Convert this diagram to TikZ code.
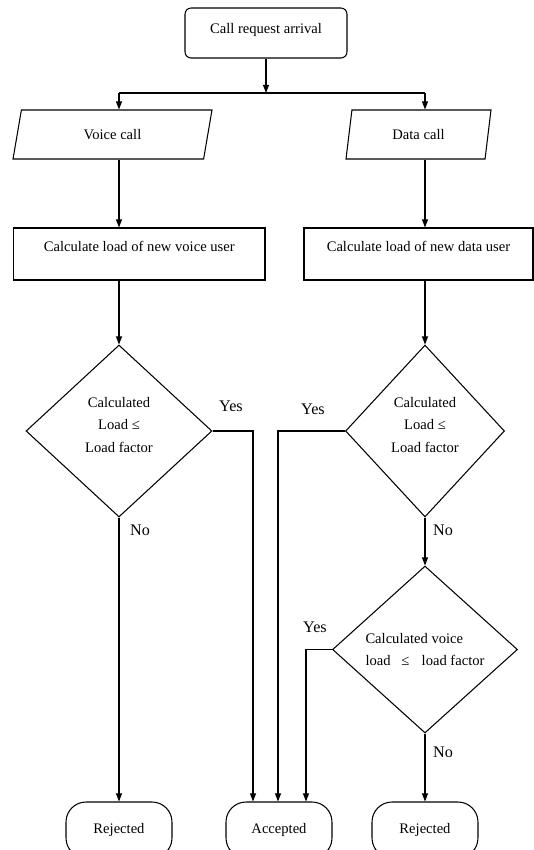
\documentclass[tikz,border=0pt]{standalone}
\usepackage{fontspec}
\setmainfont{Liberation Serif}
\usepackage{tikz}
\usetikzlibrary{shapes.geometric}
\usetikzlibrary{arrows.meta}
\tikzset{
  every node/.style={font=\fontsize{8.3}{13}\selectfont},
  flow/.style={draw=black, line width=0.6pt},
  arr/.style={flow, -{Triangle[length=4.6pt,width=3.4pt]}},
  startbox/.style={flow, rectangle, rounded corners=3.5pt, minimum width=3.24cm, minimum height=1cm, text depth=5pt},
  inputbox/.style={flow, trapezium, trapezium stretches body, minimum height=0.98cm, inner sep=0pt},
  procbox/.style={flow, rectangle, minimum height=1.04cm, text depth=8.5pt},
  decision/.style={flow, diamond, inner sep=0pt, align=center},
  stopbox/.style={flow, rectangle, rounded corners=0.4cm, minimum width=2.12cm, minimum height=1.12cm},
  branchlabel/.style={font=\fontsize{9.2}{11}\selectfont, inner sep=0pt}
}
\newcommand{\branch}[3]{\node[branchlabel] (#1) at (#2) {#3};}

\begin{document}
\begin{tikzpicture}[x=0.02cm, y=-0.02cm]
        \useasboundingbox (0,0) rectangle (534,850);
        \clip (0,0) rectangle (534,850);
        % start
        \node[startbox] (start) at (266,33) {Call request arrival};
        \coordinate (split) at (266,93);
        \coordinate (splitL) at (119,93);
        \coordinate (splitR) at (425,93);
        % call type
        \node[inputbox, trapezium left angle=51, trapezium right angle=129, minimum width=3.98cm] (voice) at (112.5,134.5) {Voice call};
        \node[inputbox, trapezium left angle=60, trapezium right angle=120, minimum width=2.9cm] (data) at (418.5,134.5) {Data call};
        % load calculation
        \node[procbox, minimum width=5.03cm] (vload) at (139.3,254) {Calculate load of new voice user};
        \node[procbox, minimum width=4.58cm] (dload) at (418.5,254) {Calculate load of new data user};
        % admission tests
        \node[decision, minimum width=3.72cm, minimum height=3.44cm] (vtest) at (119,431) {Calculated\\Load ≤\\Load factor\rule[-7pt]{0pt}{7pt}};
        \node[decision, minimum width=3.18cm, minimum height=3.44cm] (dtest) at (425,431) {Calculated\\Load ≤\\Load factor\rule[-7pt]{0pt}{7pt}};
        \node[decision, align=left, minimum width=3.7cm, minimum height=3.34cm, font=\fontsize{8.3}{12.5}\selectfont] (vtest2) at (425,649.5) {Calculated voice\\load\hspace{4pt} ≤ \hspace{5pt}load factor};
        % outcomes
        \node[stopbox] (vrej) at (119,830) {Rejected};
        \node[stopbox] (acc) at (279,830) {Accepted};
        \node[stopbox] (drej) at (425,830) {Rejected};
        \coordinate (inA) at (253,802);
        \coordinate (inB) at (278,802);
        \coordinate (inC) at (306,802);
        % branch labels
        \branch{yes1}{231,406}{Yes}
        \branch{yes2}{313,409}{Yes}
        \branch{yes3}{315,627}{Yes}
        \branch{no1}{140,530}{No}
        \branch{no2}{443,530}{No}
        \branch{no3}{443,752}{No}
        % connectors
        \draw[arr] (start) -- (split);
        \draw[flow] (splitL) -- (splitR);
        \draw[arr] (splitL) -- (splitL |- voice.north);
        \draw[arr] (splitR) -- (splitR |- data.north);
        \draw[arr] (voice.south -| splitL) -- (vload.north -| splitL);
        \draw[arr] (data.south -| splitR) -- (dload.north -| splitR);
        \draw[arr] (vload.south -| splitL) -- (vtest.north);
        \draw[arr] (dload.south -| splitR) -- (dtest.north);
        \draw[arr] (vtest.south) -- (vrej.north);
        \draw[arr] (vtest.east) -| (acc.north -| inA);
        \draw[arr] (dtest.west) -| (acc.north -| inB);
        \draw[arr] (dtest.south) -- (vtest2.north);
        \draw[arr] (vtest2.west) -| (acc.north -| inC);
        \draw[arr] (vtest2.south) -- (drej.north);
\end{tikzpicture}
\end{document}
